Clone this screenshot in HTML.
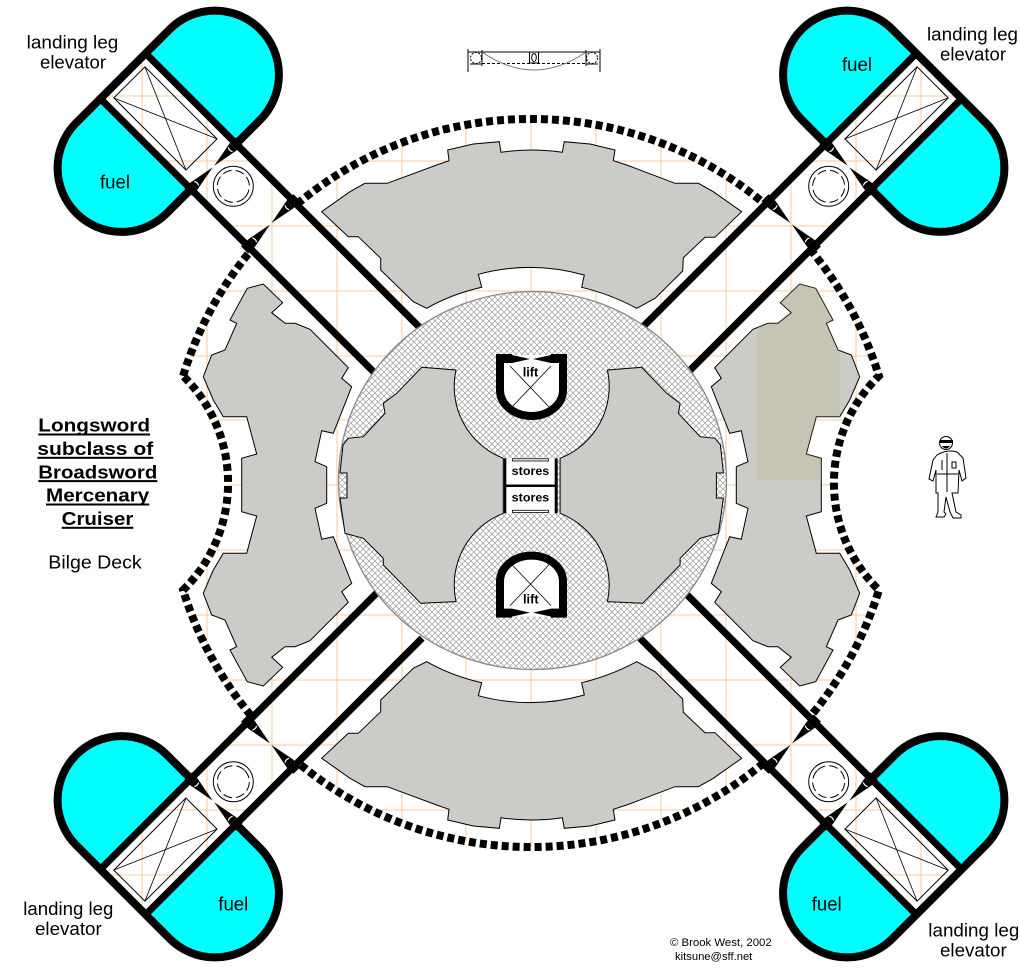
<!DOCTYPE html>
<html>
<head>
<meta charset="utf-8">
<style>
html,body{margin:0;padding:0;background:#fff;}
svg{display:block;}
text{font-family:"Liberation Sans",Arial,sans-serif;}
</style>
</head>
<body>
<svg width="1020" height="972" viewBox="0 0 1020 972" xmlns="http://www.w3.org/2000/svg">
<defs>
  <pattern id="hatch" patternUnits="userSpaceOnUse" width="6" height="6">
    <rect width="6" height="6" fill="#fff"/>
    <path d="M0,0 L6,6 M6,0 L0,6" stroke="#9c9c9c" stroke-width="0.7"/>
  </pattern>
  <clipPath id="gc">
    <path d="M183.1,375.9 A364,364 0 0 1 878.9,375.9 A150,150 0 0 0 878.9,590.1 A364,364 0 0 1 183.1,590.1 A150,150 0 0 0 183.1,375.9 Z"/>
    <rect x="-577" y="-32" width="392" height="64" transform="translate(531,484) rotate(45)"/>
    <rect x="-577" y="-32" width="392" height="64" transform="translate(531,484) rotate(135)"/>
    <rect x="-577" y="-32" width="392" height="64" transform="translate(531,484) rotate(225)"/>
    <rect x="-577" y="-32" width="392" height="64" transform="translate(531,484) rotate(315)"/>
  </clipPath>
  <clipPath id="rr">
    <path transform="translate(1063,0) scale(-1,1)" d="M247.3,288.3 L263.3,284 L282.7,302.7 L271.7,312.7 L285,323.3 L295,323.3 L310,329.3 L348.3,367.7 L341.7,378.3 L351.7,386.7 L333.3,433.3 L321.7,430.7 L315,461.7 L326.7,466.7 L326.7,503.3 L315,508.3 L321.7,539.3 L333.3,536.7 L351.7,583.3 L341.7,591.7 L348.3,602.3 L310,640.7 L295,646.7 L285,646.7 L271.7,657.3 L282.7,667.3 L263.3,686 L247.3,681.7 L230,650 L236.7,646.7 L225,620 L211.7,615 L203.3,593.3 L213.3,570 L223.3,553.3 L246.7,553.3 L256.7,516 L241.7,511.7 L241.7,458.3 L256.7,454 L246.7,416.7 L223.3,416.7 L213.3,400 L203.3,376.7 L211.7,355 L225,350 L236.7,323.3 L230,320 Z"/>
  </clipPath>
  <mask id="hm" maskUnits="userSpaceOnUse" x="0" y="0" width="1020" height="972">
    <rect width="1020" height="972" fill="#fff"/>
    <g fill="#000">
      <rect x="-600" y="-32" width="420" height="64" transform="translate(531,484) rotate(45)"/>
      <rect x="-600" y="-32" width="420" height="64" transform="translate(531,484) rotate(135)"/>
      <rect x="-600" y="-32" width="420" height="64" transform="translate(531,484) rotate(225)"/>
      <rect x="-600" y="-32" width="420" height="64" transform="translate(531,484) rotate(315)"/>
    </g>
  </mask>
  <g id="mod">
    <path d="M-577,32 L-577,66 A64,64 0 0 0 -449,66 L-449,32 Z" fill="#00ffff"/>
    <path d="M-577,-32 L-577,-66 A64,64 0 0 1 -449,-66 L-449,-32 Z" fill="#00ffff"/>
    <path d="M-449,32 L-449,66 A64,64 0 0 1 -577,66 L-577,-66 A64,64 0 0 1 -449,-66 L-449,-32" fill="none" stroke="#000" stroke-width="8"/>
    <path d="M-577,32 L-186,32 M-577,-32 L-186,-32" stroke="#000" stroke-width="7" fill="none"/>
    <rect x="-568" y="-22" width="102" height="44" fill="none" stroke="#000" stroke-width="1"/>
    <path d="M-568,-22 L-466,22 M-568,22 L-466,-22" stroke="#000" stroke-width="0.8" fill="none"/>
    <g fill="#000">
      <rect x="-454" y="-36" width="10" height="8"/>
      <rect x="-454" y="28" width="10" height="8"/>
      <polygon points="-454,-28 -444,-28 -449,-1"/>
      <polygon points="-454,28 -444,28 -449,1"/>
      <rect x="-373" y="-37" width="10" height="10"/>
      <rect x="-373" y="27" width="10" height="10"/>
      <polygon points="-373,-27 -363,-27 -368,-1"/>
      <polygon points="-373,27 -363,27 -368,1"/>
    </g>
    <path d="M-452,-24 A6,6 0 0 0 -446,-24 M-452,24 A6,6 0 0 1 -446,24 M-371,-23 A6,6 0 0 0 -365,-23 M-371,23 A6,6 0 0 1 -365,23" stroke="#fff" stroke-width="1.2" fill="none"/>
    <circle cx="-421" cy="0" r="20" fill="none" stroke="#000" stroke-width="1"/>
    <circle cx="-421" cy="0" r="16" fill="none" stroke="#000" stroke-width="1" stroke-dasharray="9 4"/>
  </g>
</defs>

<rect width="1020" height="972" fill="#fff"/>

<!-- orange grid -->
<g clip-path="url(#gc)" stroke="#fcc896" stroke-width="1">
  <path d="M142,0V972 M207,0V972 M272,0V972 M337,0V972 M402,0V972 M466,0V972 M531,0V972 M596,0V972 M661,0V972 M726,0V972 M791,0V972 M856,0V972 M921,0V972"/>
  <path d="M0,96H1020 M0,161H1020 M0,226H1020 M0,291H1020 M0,356H1020 M0,420H1020 M0,485H1020 M0,550H1020 M0,615H1020 M0,680H1020 M0,745H1020 M0,810H1020 M0,875H1020"/>
</g>

<!-- hull dashes -->
<path d="M183.1,375.9 A364,364 0 0 1 878.9,375.9 A150,150 0 0 0 878.9,590.1 A364,364 0 0 1 183.1,590.1 A150,150 0 0 0 183.1,375.9 Z" fill="none" stroke="#000" stroke-width="8" stroke-dasharray="7 4" mask="url(#hm)"/>

<!-- outer gray rooms -->
<g fill="#cbcbc8" stroke="#000" stroke-width="1">
  <path d="M321.7,211.7 L350,191.7 L365,183.3 L387.3,183.3 L436.7,165 L449,160.7 L447.7,150 L473.3,144 L499.3,141.7 L501,152.3 Q531,147.7 562.3,152.3 L564.3,141.7 L590,144 L615,150 L613.3,160.7 L626.7,165 L675,183.3 L698.3,183.3 L713.3,191.7 L741.7,211.7 L715,237.3 L705,237.3 L683.3,257.7 L682.7,271 L655,298.3 L636.7,308.3 Q610,294 581.7,287.3 L584.3,275 Q531,260 478.3,274.3 L481.7,287.3 Q452,294 426.7,308.3 L413.3,301.7 L380.7,270 L380.7,258.3 L358.3,236.7 L348.3,236.7 Z"/>
  <path transform="translate(0,970) scale(1,-1)" d="M321.7,211.7 L350,191.7 L365,183.3 L387.3,183.3 L436.7,165 L449,160.7 L447.7,150 L473.3,144 L499.3,141.7 L501,152.3 Q531,147.7 562.3,152.3 L564.3,141.7 L590,144 L615,150 L613.3,160.7 L626.7,165 L675,183.3 L698.3,183.3 L713.3,191.7 L741.7,211.7 L715,237.3 L705,237.3 L683.3,257.7 L682.7,271 L655,298.3 L636.7,308.3 Q610,294 581.7,287.3 L584.3,275 Q531,260 478.3,274.3 L481.7,287.3 Q452,294 426.7,308.3 L413.3,301.7 L380.7,270 L380.7,258.3 L358.3,236.7 L348.3,236.7 Z"/>
  <path d="M247.3,288.3 L263.3,284 L282.7,302.7 L271.7,312.7 L285,323.3 L295,323.3 L310,329.3 L348.3,367.7 L341.7,378.3 L351.7,386.7 L333.3,433.3 L321.7,430.7 L315,461.7 L326.7,466.7 L326.7,503.3 L315,508.3 L321.7,539.3 L333.3,536.7 L351.7,583.3 L341.7,591.7 L348.3,602.3 L310,640.7 L295,646.7 L285,646.7 L271.7,657.3 L282.7,667.3 L263.3,686 L247.3,681.7 L230,650 L236.7,646.7 L225,620 L211.7,615 L203.3,593.3 L213.3,570 L223.3,553.3 L246.7,553.3 L256.7,516 L241.7,511.7 L241.7,458.3 L256.7,454 L246.7,416.7 L223.3,416.7 L213.3,400 L203.3,376.7 L211.7,355 L225,350 L236.7,323.3 L230,320 Z"/>
  <path transform="translate(1063,0) scale(-1,1)" d="M247.3,288.3 L263.3,284 L282.7,302.7 L271.7,312.7 L285,323.3 L295,323.3 L310,329.3 L348.3,367.7 L341.7,378.3 L351.7,386.7 L333.3,433.3 L321.7,430.7 L315,461.7 L326.7,466.7 L326.7,503.3 L315,508.3 L321.7,539.3 L333.3,536.7 L351.7,583.3 L341.7,591.7 L348.3,602.3 L310,640.7 L295,646.7 L285,646.7 L271.7,657.3 L282.7,667.3 L263.3,686 L247.3,681.7 L230,650 L236.7,646.7 L225,620 L211.7,615 L203.3,593.3 L213.3,570 L223.3,553.3 L246.7,553.3 L256.7,516 L241.7,511.7 L241.7,458.3 L256.7,454 L246.7,416.7 L223.3,416.7 L213.3,400 L203.3,376.7 L211.7,355 L225,350 L236.7,323.3 L230,320 Z"/>
</g>
<!-- khaki tint (clipped to right room) -->
<g clip-path="url(#rr)">
  <polygon points="757,280 840,280 840,480 757,480" fill="#bdb88a" opacity="0.3"/>
</g>

<!-- modules and arms -->
<use href="#mod" transform="translate(531,484) rotate(45)"/>
<use href="#mod" transform="translate(531,484) rotate(135)"/>
<use href="#mod" transform="translate(531,484) rotate(225)"/>
<use href="#mod" transform="translate(531,484) rotate(315)"/>

<!-- central circle -->
<ellipse cx="532.5" cy="480.5" rx="194" ry="189" fill="url(#hatch)" stroke="#888" stroke-width="1.3"/>

<!-- central gray rooms -->
<g fill="#cbcbc8" stroke="#000" stroke-width="1">
  <path d="M421.7,367.3 L456,370 A77,77 0 0 0 503.3,458.3 L503.3,513.3 A77,77 0 0 0 456,601.6 L420.7,603.3 L383.3,565 L383.3,558.3 L363.3,538.3 L345,533.3 L340,498 L347,498 L347,473 L340,473 L343,445 L348.3,438.3 L363.3,436.7 L385,413.3 L383.3,403.3 L396.7,393.3 Z"/>
  <path transform="translate(1063.4,0) scale(-1,1)" d="M421.7,367.3 L456,370 A77,77 0 0 0 503.3,458.3 L503.3,513.3 A77,77 0 0 0 456,601.6 L420.7,603.3 L383.3,565 L383.3,558.3 L363.3,538.3 L345,533.3 L340,498 L347,498 L347,473 L340,473 L343,445 L348.3,438.3 L363.3,436.7 L385,413.3 L383.3,403.3 L396.7,393.3 Z"/>
</g>

<!-- stores -->
<rect x="503.3" y="458.3" width="54.4" height="55" fill="#fff"/>
<g fill="#000">
  <rect x="503.3" y="458.3" width="3" height="55"/>
  <rect x="554.7" y="458.3" width="3" height="55"/>
  <rect x="506" y="484.5" width="49" height="2.5"/>
</g>
<rect x="512.5" y="458.8" width="36" height="2.2" fill="#fff" stroke="#000" stroke-width="0.8"/>
<rect x="512.5" y="510.3" width="36" height="2.2" fill="#fff" stroke="#000" stroke-width="0.8"/>
<text x="511.7" y="475" font-size="12" font-weight="bold" textLength="37.6" lengthAdjust="spacingAndGlyphs">stores</text>
<text x="511.7" y="501.5" font-size="12" font-weight="bold" textLength="37.6" lengthAdjust="spacingAndGlyphs">stores</text>

<!-- lifts -->
<g id="lift">
  <path d="M500,359 L500,390 A31.5,26 0 0 0 563,390 L563,359" fill="#fff" stroke="#000" stroke-width="8"/>
  <rect x="504" y="355" width="55" height="6" fill="#fff"/>
  <g fill="#000">
    <rect x="496" y="354" width="16" height="9"/>
    <rect x="551" y="354" width="16" height="9"/>
    <polygon points="512,355 512,363 530,359"/>
    <polygon points="551,355 551,363 533,359"/>
  </g>
  <path d="M510,366 L551,409 M551,366 L510,409" stroke="#000" stroke-width="0.8"/>
</g>
<use href="#lift" transform="translate(0,971.6) scale(1,-1)"/>
<text x="522.7" y="376.7" font-size="13" font-weight="bold" textLength="15.6" lengthAdjust="spacingAndGlyphs">lift</text>
<text x="523" y="603.3" font-size="13" font-weight="bold" textLength="15.6" lengthAdjust="spacingAndGlyphs">lift</text>

<!-- top small icon -->
<g stroke="#000" fill="none" stroke-width="1">
  <path d="M468,52 H600 M468,49 V72 M600,49 V72"/>
  <circle cx="476" cy="58" r="5.5" stroke-dasharray="2 1.5"/>
  <circle cx="592" cy="58" r="5.5" stroke-dasharray="2 1.5"/>
  <rect x="529.5" y="52" width="9" height="11"/>
  <ellipse cx="534" cy="57.5" rx="2.3" ry="4"/>
  <path d="M482,63.5 H586" stroke-dasharray="3 2"/>
  <path d="M482,52 Q534,88 586,52" stroke="#777"/>
  <path d="M470,64 H482 M586,64 H598 M482,50 V66 M586,50 V66"/>
</g>

<!-- figure -->
<g fill="#fff" stroke="#000" stroke-width="1">
  <path d="M937,455 Q947,449 957,452 L963,458 L966,478 L962,481 L959,470 L958,493 L952,493 L956,512 L961,515 L961,518 L953,518 L950,512 L946,497 L944,512 L946,514 L944,517 L936,517 L938,512 L938,493 L936,493 L936,470 L933,481 L929,479 L933,460 Z"/>
  <circle cx="946" cy="443" r="6.5"/>
  <path d="M937,474 H958 M947,453 V492 M942,460 V470 M952,462 H956 V468 H952 Z"/>
</g>
<path d="M940,440 H953 V443 H940 Z M942,446 Q946,451 950,446 Z" fill="#000"/>

<!-- labels -->
<g font-size="18" fill="#000">
  <text x="26.7" y="48.3" textLength="91.6" lengthAdjust="spacingAndGlyphs">landing leg</text>
  <text x="40" y="68.3" textLength="66" lengthAdjust="spacingAndGlyphs">elevator</text>
  <text x="927" y="40.5" textLength="91" lengthAdjust="spacingAndGlyphs">landing leg</text>
  <text x="940" y="60.5" textLength="66" lengthAdjust="spacingAndGlyphs">elevator</text>
  <text x="23.3" y="915" textLength="90" lengthAdjust="spacingAndGlyphs">landing leg</text>
  <text x="35" y="935" textLength="66.7" lengthAdjust="spacingAndGlyphs">elevator</text>
  <text x="928.3" y="936.7" textLength="91" lengthAdjust="spacingAndGlyphs">landing leg</text>
  <text x="940" y="956.7" textLength="66.7" lengthAdjust="spacingAndGlyphs">elevator</text>
</g>
<g font-size="19" fill="#000">
  <text x="100" y="188.3" textLength="30" lengthAdjust="spacingAndGlyphs">fuel</text>
  <text x="842" y="71" textLength="30" lengthAdjust="spacingAndGlyphs">fuel</text>
  <text x="218.3" y="910.7" textLength="30" lengthAdjust="spacingAndGlyphs">fuel</text>
  <text x="811.7" y="910.7" textLength="30" lengthAdjust="spacingAndGlyphs">fuel</text>
</g>

<!-- title -->
<g font-size="18" font-weight="bold" fill="#000">
  <text x="38.3" y="431.7" textLength="111.7" lengthAdjust="spacingAndGlyphs">Longsword</text>
  <text x="37.3" y="455" textLength="116" lengthAdjust="spacingAndGlyphs">subclass of</text>
  <text x="38.3" y="478.3" textLength="119" lengthAdjust="spacingAndGlyphs">Broadsword</text>
  <text x="46" y="501.7" textLength="103.3" lengthAdjust="spacingAndGlyphs">Mercenary</text>
  <text x="61.7" y="525" textLength="71.6" lengthAdjust="spacingAndGlyphs">Cruiser</text>
</g>
<g fill="#000">
  <rect x="38.3" y="433.5" width="111.7" height="2"/>
  <rect x="37.3" y="456.8" width="116" height="2"/>
  <rect x="38.3" y="480.1" width="119" height="2"/>
  <rect x="46" y="503.5" width="103.3" height="2"/>
  <rect x="61.7" y="526.8" width="71.6" height="2"/>
</g>
<text x="48.3" y="568.3" font-size="18" textLength="93.4" lengthAdjust="spacingAndGlyphs">Bilge Deck</text>

<!-- copyright -->
<text x="670" y="946" font-size="11" textLength="101.7" lengthAdjust="spacingAndGlyphs">© Brook West, 2002</text>
<text x="675" y="960" font-size="11" textLength="77.3" lengthAdjust="spacingAndGlyphs">kitsune@sff.net</text>
</svg>
</body>
</html>
